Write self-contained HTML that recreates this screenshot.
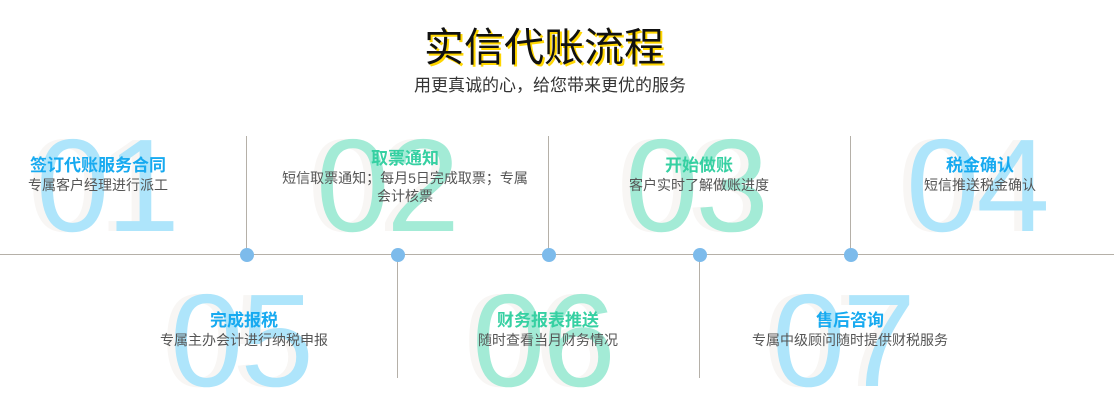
<!DOCTYPE html>
<html><head><meta charset="utf-8"><style>
body{margin:0;width:1114px;height:414px;background:#fff;position:relative;overflow:hidden;font-family:"Liberation Sans","Noto Sans CJK SC",sans-serif}
.a{position:absolute}
.num{position:absolute;font-family:"Liberation Sans",sans-serif;font-size:132px;line-height:132px;letter-spacing:-3px;text-shadow:-8px 0 0 #f8f6f4}
.b{color:#aee5fb}.g{color:#a3ebd6}
.blk{position:absolute;text-align:center;width:300px}
.t{font-size:17px;font-weight:bold;line-height:20px}
.tb{color:#17aaf0}.tg{color:#36d0a2}
.d{font-size:14px;color:#555;line-height:18px}
.vl{position:absolute;width:1px;background:#b5b0a8}
.dot{position:absolute;width:14px;height:14px;border-radius:50%;background:#7dbbeb}
</style></head><body>
<div class="a" style="left:-13px;top:18px;width:1114px;text-align:center;font-size:40px;line-height:52px;color:#111;text-shadow:2px 2px 0 #ffd600;font-family:'Noto Sans CJK SC',sans-serif">实信代账流程</div>
<div class="a" style="left:-7px;top:74px;width:1114px;text-align:center;font-size:17px;color:#333;line-height:24px">用更真诚的心，给您带来更优的服务</div>

<div class="a" style="left:0;top:254px;width:1114px;height:1px;background:#b5b0a8"></div>
<div class="vl" style="left:246px;top:136px;height:119px"></div>
<div class="vl" style="left:548px;top:136px;height:119px"></div>
<div class="vl" style="left:850px;top:136px;height:119px"></div>
<div class="vl" style="left:397px;top:255px;height:123px"></div>
<div class="vl" style="left:699px;top:255px;height:123px"></div>

<div class="num b" style="left:36px;top:120px">01</div>
<div class="num g" style="left:316px;top:120px">02</div>
<div class="num g" style="left:625px;top:120px">03</div>
<div class="num b" style="left:906px;top:120px">04</div>
<div class="num b" style="left:170px;top:275px">05</div>
<div class="num g" style="left:472px;top:275px">06</div>
<div class="num b" style="left:772px;top:275px">07</div>

<div class="dot" style="left:240px;top:248px"></div>
<div class="dot" style="left:391px;top:248px"></div>
<div class="dot" style="left:542px;top:248px"></div>
<div class="dot" style="left:693px;top:248px"></div>
<div class="dot" style="left:844px;top:248px"></div>

<div class="blk" style="left:-52px;top:156px"><div class="t tb">签订代账服务合同</div><div class="d">专属客户经理进行派工</div></div>
<div class="blk" style="left:260px;top:149px;width:290px"><div class="t tg">取票通知</div><div class="d">短信取票通知；每月5日完成取票；专属<br>会计核票</div></div>
<div class="blk" style="left:549px;top:156px"><div class="t tg">开始做账</div><div class="d">客户实时了解做账进度</div></div>
<div class="blk" style="left:830px;top:156px"><div class="t tb">税金确认</div><div class="d">短信推送税金确认</div></div>
<div class="blk" style="left:94px;top:311px"><div class="t tb">完成报税</div><div class="d">专属主办会计进行纳税申报</div></div>
<div class="blk" style="left:398px;top:311px"><div class="t tg">财务报表推送</div><div class="d">随时查看当月财务情况</div></div>
<div class="blk" style="left:700px;top:311px"><div class="t tb">售后咨询</div><div class="d">专属中级顾问随时提供财税服务</div></div>
</body></html>
